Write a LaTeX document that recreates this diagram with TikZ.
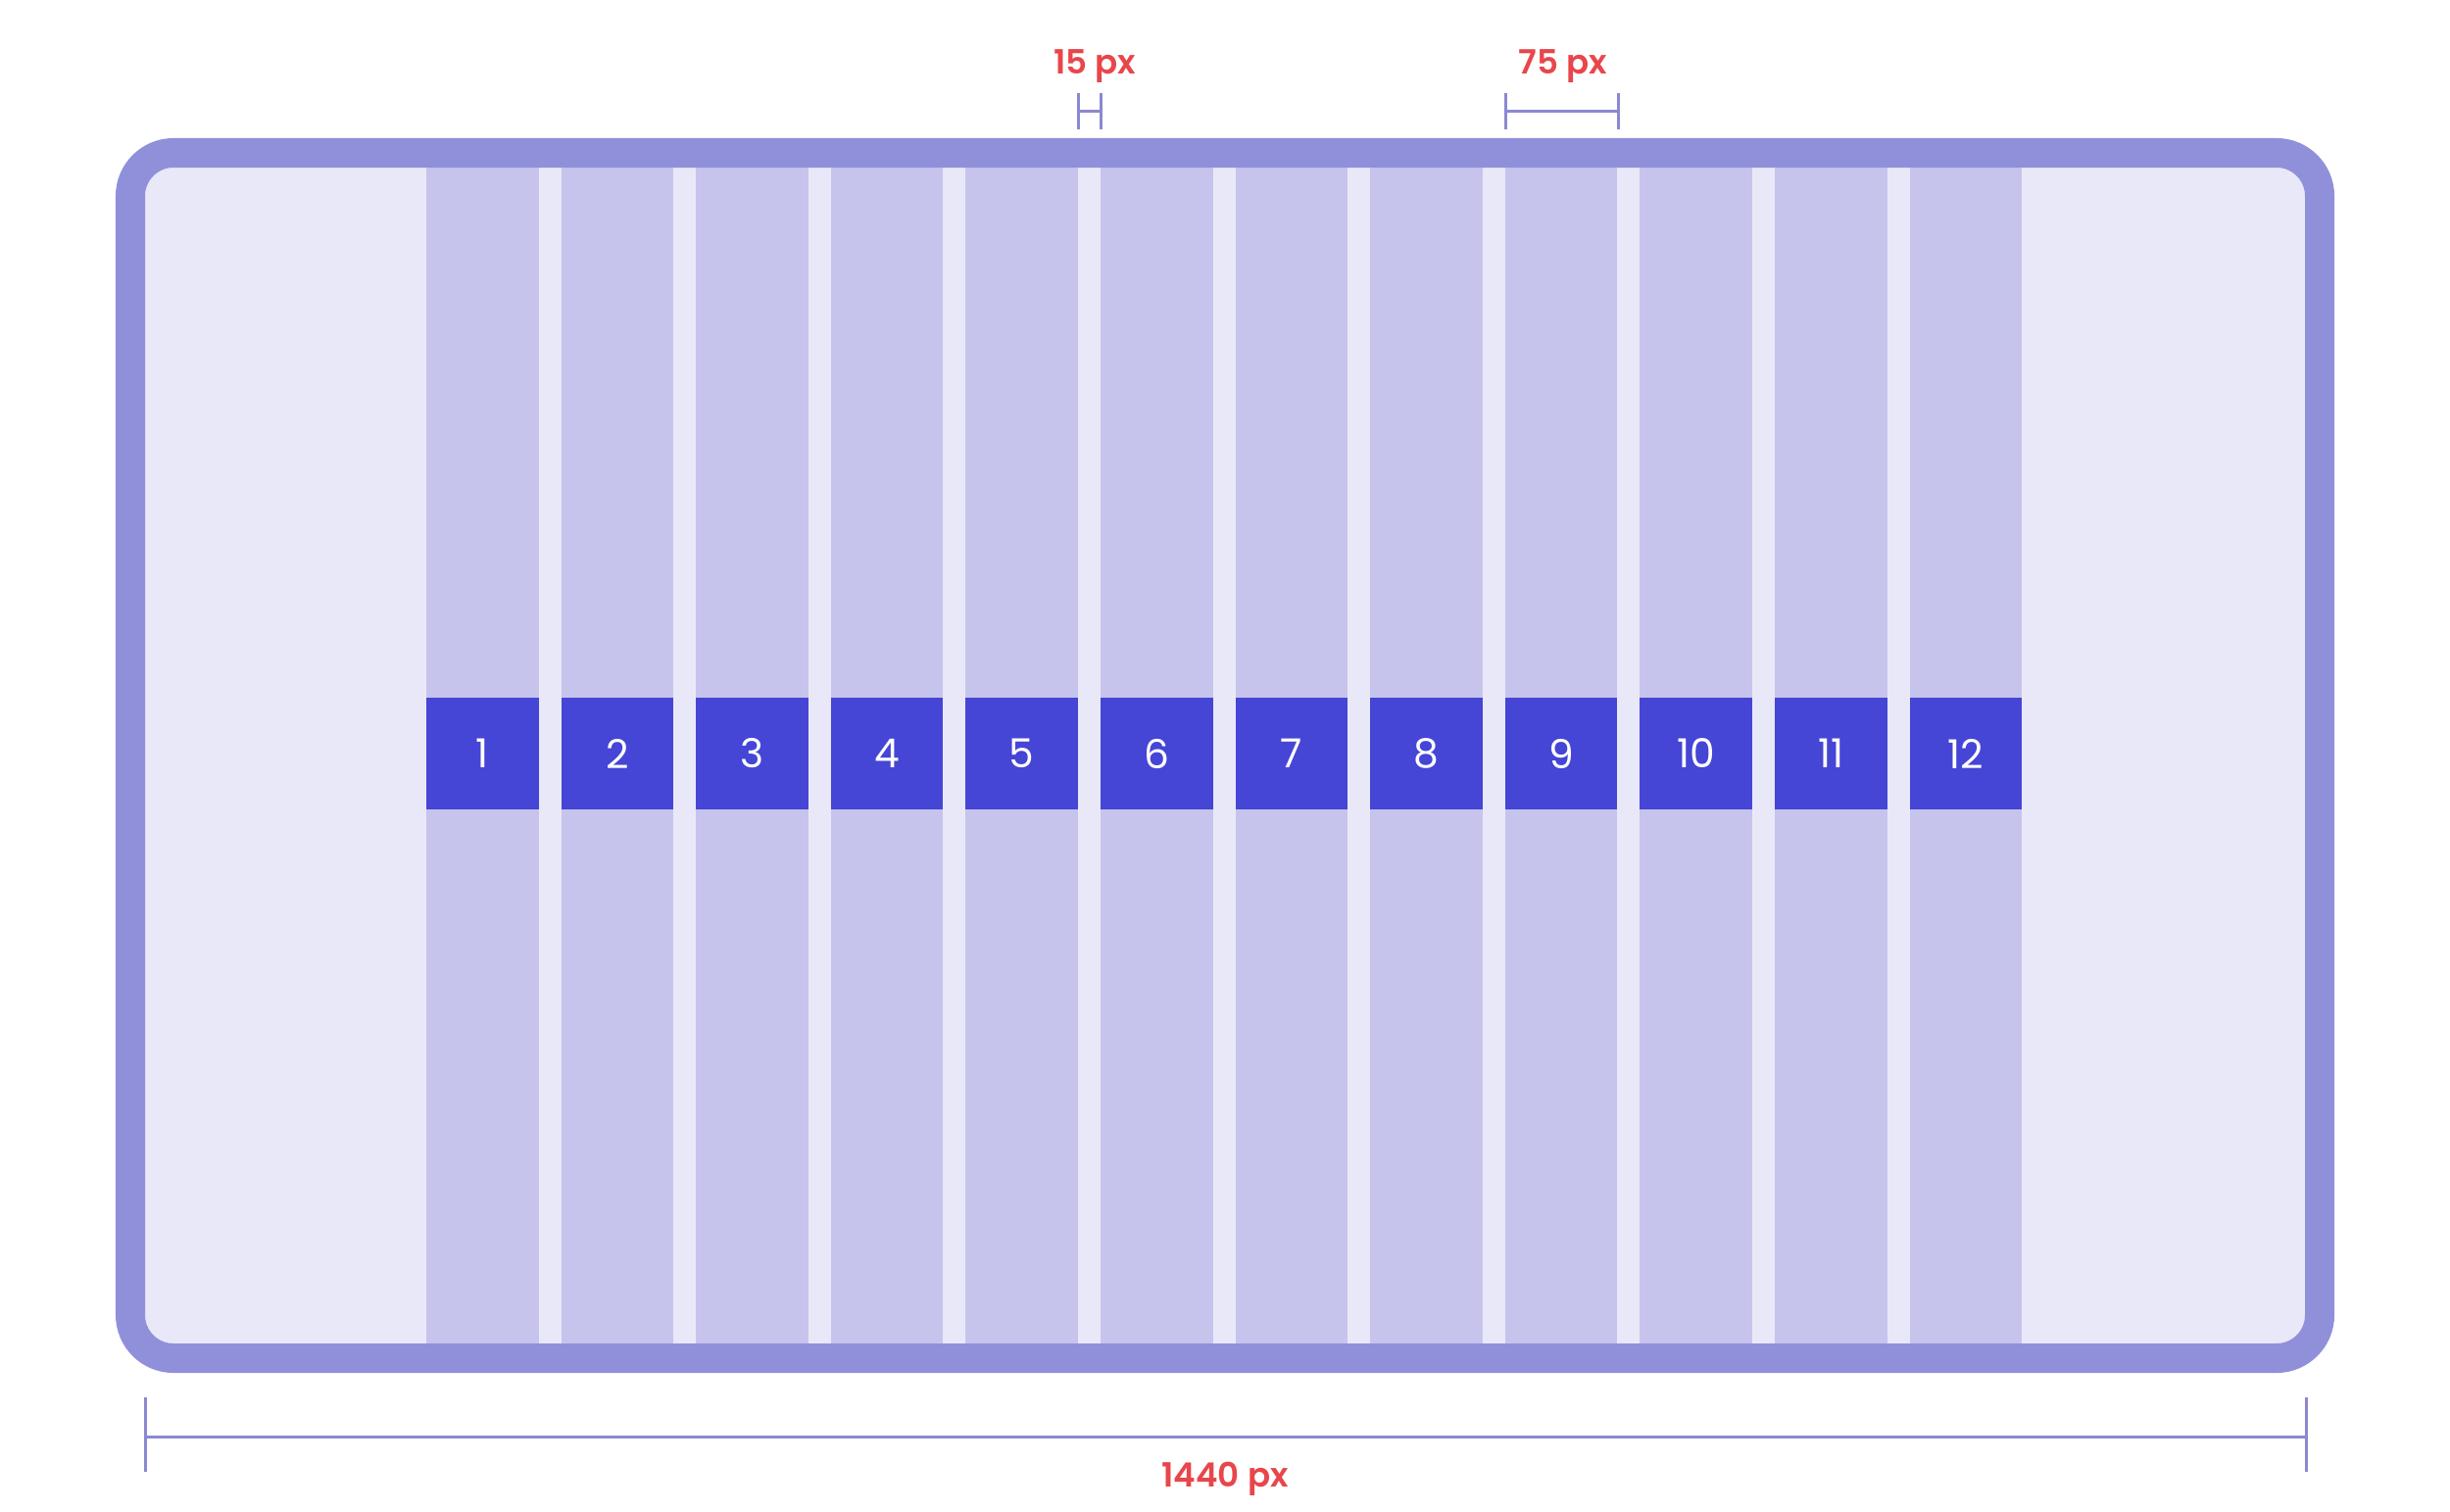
\documentclass[tikz,border=0pt]{standalone}
\usepackage{fontspec}
\setmainfont{Poppins}
\newfontfamily\labfont{Poppins}[UprightFont=* SemiBold]
\definecolor{framecol}{HTML}{9090DA}
\definecolor{innerbg}{HTML}{E9E8F8}
\definecolor{colfill}{HTML}{C6C4EC}
\definecolor{boxfill}{HTML}{4545D6}
\definecolor{dimcol}{HTML}{8C88D0}
\definecolor{redlab}{HTML}{E8464B}
\tikzset{
  numbox/.style={fill=boxfill, text=white, minimum width=1.145cm, minimum height=1.14cm, inner sep=0pt, font=\fontsize{11.6}{13}\selectfont},
  lab/.style={text=redlab, inner sep=0pt, font=\labfont\fontsize{9.7}{12}\selectfont},
  dimline/.style={draw=dimcol, line width=0.03cm},
}
\begin{document}
\begin{tikzpicture}[x=0.01cm, y=-0.01cm]
\useasboundingbox (0,0) rectangle (2500,1542);
% inner background
\fill[innerbg, rounded corners=0.29cm] (148,171) rectangle (2352,1371);
% columns and boxes
\foreach \i in {1,...,12}{
  \pgfmathsetmacro{\xl}{435+(\i-1)*137.6}
  \fill[colfill] (\xl,171) rectangle ({\xl+114.6},1371);
  \node[numbox] (b\i) at ({\xl+57.3},769) {\i};
}
% frame
\draw[framecol, line width=0.3cm, rounded corners=0.44cm] (133,156) rectangle (2367,1386);
% 15 px dimension
\coordinate (g1) at (1100,113);
\coordinate (g2) at (1123,113);
\draw[dimline] (1100,95) -- (1100,132);
\draw[dimline] (1123,95) -- (1123,132);
\draw[dimline] (g1) -- (g2);
\node[lab, anchor=base] (l15) at (1117,75) {15 px};
% 75 px dimension
\coordinate (c1) at (1536,113);
\coordinate (c2) at (1651,113);
\draw[dimline] (1536,95) -- (1536,132);
\draw[dimline] (1651,95) -- (1651,132);
\draw[dimline] (c1) -- (c2);
\node[lab, anchor=base] (l75) at (1595,75) {75 px};
% 1440 px dimension
\coordinate (w1) at (148,1466);
\coordinate (w2) at (2353,1466);
\draw[dimline] (148,1426) -- (148,1502);
\draw[dimline] (2353,1426) -- (2353,1502);
\draw[dimline] (w1) -- (w2);
\node[lab, anchor=base] (l1440) at (1250,1517) {1440 px};
\end{tikzpicture}
\end{document}
